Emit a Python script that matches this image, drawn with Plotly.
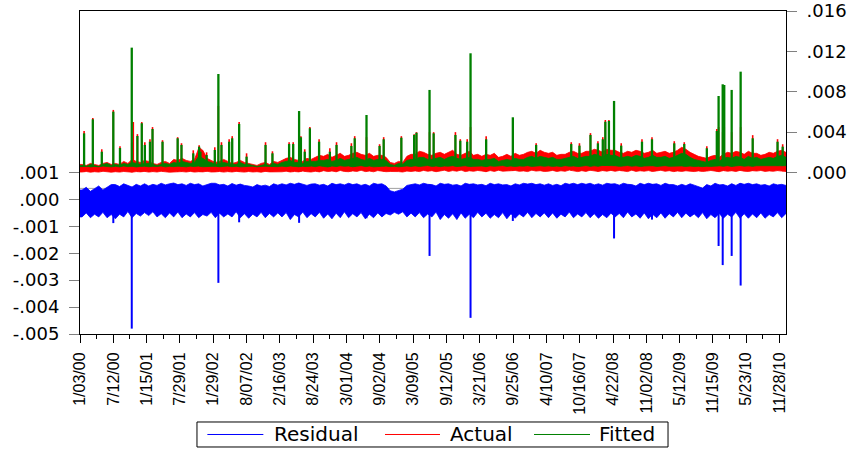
import numpy as np
import plotly.graph_objects as go

# ---------------------------------------------------------------------------
# Observation grid (irregular trading dates, labelled every 130 observations)
# ---------------------------------------------------------------------------
N_OBS = 2756
OBS_PER_LABEL = 130
OBS_PER_BIN = 16.25         # eight envelope bins between date labels
UNIT = 1e-4                 # series values below are in units of 1e-4

date_labels = ["1/03/00", "7/12/00", "1/15/01", "7/29/01", "1/29/02", "8/07/02",
               "2/16/03", "8/24/03", "3/01/04", "9/02/04", "3/09/05", "9/12/05",
               "3/21/06", "9/25/06", "4/10/07", "10/16/07", "4/22/08", "11/02/08",
               "5/12/09", "11/15/09", "5/23/10", "11/28/10"]
series_names = ["Residual", "Actual", "Fitted"]

# ---------------------------------------------------------------------------
# Per-bin max / min of each series (one row per date-label interval)
# ---------------------------------------------------------------------------
actual_hi = [
    8, 7, 9, 8, 7, 9, 10, 8,
    9, 8, 11, 9, 13, 11, 10, 12,
    11, 9, 8, 10, 11, 9, 13, 12,
    14, 12, 11, 13, 24, 22, 14, 12,
    10, 11, 13, 11, 9, 10, 12, 10,
    9, 8, 7, 9, 10, 8, 11, 10,
    12, 14, 15, 13, 12, 11, 14, 13,
    15, 17, 16, 18, 15, 17, 19, 16,
    17, 19, 20, 18, 17, 19, 16, 17,
    17, 15, 10, 9, 11, 10, 16, 18,
    18, 21, 20, 18, 17, 19, 20, 18,
    20, 22, 18, 17, 19, 21, 17, 18,
    16, 18, 17, 19, 15, 16, 18, 16,
    19, 17, 18, 20, 21, 19, 22, 20,
    19, 20, 17, 18, 18, 20, 21, 19,
    19, 21, 21, 23, 22, 20, 23, 22,
    22, 20, 19, 21, 20, 22, 21, 19,
    20, 22, 19, 20, 21, 19, 20, 22,
    25, 23, 20, 18, 16, 15, 14, 16,
    17, 15, 18, 20, 19, 21, 20, 18,
    21, 19, 19, 17, 18, 20, 19, 21,
    22, 20]
actual_lo = [
    0.5, 1.0, 0.3, 0.8, 0.4, 1.2, 0.6, 0.3,
    0.8, 0.4, 1.0, 0.5, 0.3, 0.9, 0.6, 1.1,
    0.4, 0.9, 0.5, 1.2, 0.7, 0.3, 1.0, 0.6,
    0.9, 0.5, 1.1, 0.4, 0.8, 0.6, 1.2, 0.5,
    0.6, 1.0, 0.4, 0.9, 0.5, 1.1, 0.7, 0.4,
    1.0, 0.5, 0.8, 0.3, 1.1, 0.6, 0.9, 0.5,
    0.7, 1.3, 0.5, 1.0, 0.6, 1.4, 0.8, 0.5,
    1.2, 0.6, 1.8, 0.9, 1.5, 0.7, 2.0, 1.0,
    0.8, 1.6, 1.1, 2.2, 0.9, 1.4, 0.7, 1.9,
    1.3, 0.8, 1.0, 0.6, 0.9, 0.5, 1.4, 1.0,
    1.6, 0.9, 2.1, 1.2, 1.8, 0.8, 1.5, 2.3,
    1.0, 1.9, 1.3, 2.4, 0.9, 1.7, 1.2, 2.0,
    1.5, 0.8, 1.9, 1.1, 2.2, 1.3, 0.9, 1.7,
    2.0, 1.2, 1.6, 0.9, 2.3, 1.4, 1.8, 1.0,
    1.3, 2.1, 1.0, 1.7, 1.2, 2.4, 1.5, 0.9,
    1.8, 1.1, 2.2, 1.4, 1.0, 1.9, 1.3, 2.1,
    1.2, 2.0, 1.5, 0.9, 2.3, 1.1, 1.7, 1.3,
    1.9, 1.0, 1.6, 2.2, 1.2, 1.8, 0.9, 1.5,
    1.1, 1.7, 1.3, 0.9, 1.6, 1.0, 1.4, 2.0,
    1.5, 0.8, 1.9, 1.2, 1.7, 1.0, 2.1, 1.3,
    1.0, 1.8, 1.4, 2.0, 1.1, 1.6, 1.2, 1.9,
    1.4, 1.0]
fitted_hi = [
    7, 6, 8, 7, 6, 8, 9, 7,
    8, 7, 9, 8, 10, 9, 8, 9,
    9, 8, 7, 8, 9, 8, 10, 9,
    11, 10, 9, 10, 16, 14, 11, 10,
    8, 9, 10, 9, 8, 8, 10, 8,
    8, 7, 6, 7, 8, 7, 9, 8,
    10, 11, 12, 10, 10, 9, 11, 11,
    11, 12, 12, 13, 11, 12, 14, 12,
    13, 14, 15, 13, 12, 14, 12, 13,
    13, 12, 8, 7, 9, 8, 12, 13,
    13, 15, 15, 13, 13, 14, 15, 13,
    15, 16, 14, 13, 14, 15, 13, 13,
    12, 13, 13, 14, 11, 12, 13, 12,
    14, 13, 13, 15, 16, 14, 16, 15,
    14, 15, 13, 13, 14, 15, 16, 14,
    15, 16, 16, 18, 17, 15, 18, 17,
    17, 15, 15, 16, 15, 17, 16, 14,
    15, 17, 15, 15, 16, 14, 15, 17,
    19, 18, 15, 13, 12, 11, 10, 12,
    13, 11, 14, 15, 14, 16, 15, 13,
    16, 14, 15, 13, 14, 15, 14, 16,
    17, 15]
fitted_lo = [
    5.8, 6.3, 5.5, 6.0, 5.7, 6.4, 5.9, 5.6,
    6.1, 5.6, 6.4, 5.8, 6.2, 5.5, 6.0, 6.3,
    5.7, 6.2, 5.9, 6.5, 5.6, 6.1, 5.8, 6.3,
    6.0, 5.6, 6.3, 5.9, 6.4, 5.7, 6.1, 5.8,
    6.2, 5.7, 6.0, 6.4, 5.8, 6.1, 5.6, 6.0,
    5.9, 6.3, 5.6, 6.0, 6.2, 5.7, 6.1, 5.8,
    6.3, 5.8, 6.5, 6.0, 5.7, 6.2, 5.9, 6.4,
    5.8, 6.6, 6.0, 5.5, 6.4, 5.9, 6.7, 6.1,
    6.5, 5.7, 6.2, 6.8, 5.9, 6.4, 5.6, 6.3,
    6.0, 6.4, 5.8, 6.2, 5.6, 6.0, 6.5, 5.9,
    6.6, 5.9, 6.3, 6.9, 6.0, 6.5, 5.8, 6.4,
    6.2, 6.8, 5.9, 6.4, 6.7, 6.0, 6.5, 6.1,
    6.4, 5.8, 6.6, 6.1, 6.3, 6.9, 6.0, 6.5,
    5.9, 6.5, 6.2, 6.8, 6.0, 6.4, 6.7, 6.1,
    6.6, 6.0, 6.4, 5.9, 6.8, 6.2, 6.5, 6.0,
    6.3, 6.9, 6.1, 6.6, 6.2, 7.0, 6.4, 6.8,
    6.7, 6.1, 6.5, 6.9, 6.2, 6.6, 6.0, 6.4,
    6.2, 6.7, 6.0, 6.5, 6.8, 6.1, 6.6, 6.3,
    6.5, 6.0, 6.4, 5.9, 6.2, 5.8, 6.3, 6.0,
    6.1, 6.6, 6.2, 6.8, 6.0, 6.5, 6.9, 6.2,
    6.6, 6.1, 6.7, 6.3, 6.9, 6.2, 6.5, 6.8,
    6.4, 6.7]
resid_hi = [
    3.5, 4.5, 3.0, 4.0, 5.0, 3.5, 4.5, 5.5,
    5.5, 4.8, 5.8, 5.2, 4.6, 5.6, 5.0, 5.8,
    5.0, 5.6, 5.2, 6.0, 5.4, 5.8, 6.1, 5.5,
    5.8, 5.2, 6.0, 5.5, 5.8, 5.0, 5.6, 6.0,
    6.0, 5.4, 5.6, 5.0, 5.9, 5.3, 5.7, 5.2,
    5.0, 4.6, 5.5, 5.0, 5.3, 4.8, 5.8, 5.3,
    5.8, 5.4, 6.0, 5.6, 6.1, 5.5, 5.2, 5.7,
    5.8, 5.3, 5.6, 5.0, 6.0, 5.5, 5.8, 5.4,
    6.0, 5.5, 5.8, 5.2, 5.6, 5.0, 6.0, 5.6,
    5.8, 5.0, 3.2, 2.8, 3.4, 3.8, 5.2, 5.6,
    5.8, 5.4, 6.0, 5.6, 5.5, 5.0, 6.0, 5.6,
    5.8, 5.3, 5.5, 5.0, 6.0, 5.6, 5.8, 5.4,
    5.6, 5.1, 6.0, 5.5, 5.8, 5.4, 5.5, 5.0,
    5.8, 5.4, 6.0, 5.7, 6.0, 5.5, 5.8, 5.3,
    5.8, 5.2, 5.6, 5.1, 6.0, 5.6, 6.0, 5.5,
    6.0, 5.6, 6.0, 5.4, 5.8, 5.3, 6.0, 5.7,
    5.8, 5.3, 6.0, 5.6, 5.5, 5.0, 6.0, 5.5,
    6.0, 5.6, 5.8, 5.2, 6.0, 5.5, 5.5, 5.0,
    5.6, 5.1, 5.8, 5.3, 4.8, 4.2, 5.5, 5.0,
    6.0, 5.4, 5.5, 5.0, 5.8, 5.2, 6.0, 5.6,
    6.0, 5.5, 5.8, 5.3, 5.5, 5.0, 5.8, 5.4,
    5.6, 5.2]
resid_lo = [
    -6.5, -5.0, -6.8, -5.5, -6.5, -4.8, -6.8, -5.6,
    -7.2, -5.5, -6.5, -4.5, -6.8, -5.2, -6.2, -4.9,
    -6.0, -4.6, -6.5, -5.3, -6.8, -5.0, -6.5, -4.7,
    -6.8, -5.4, -6.5, -4.9, -6.8, -5.6, -6.2, -4.8,
    -6.8, -5.1, -6.5, -5.4, -6.5, -4.6, -6.8, -5.3,
    -7.0, -5.5, -6.5, -4.8, -6.8, -5.2, -6.5, -5.0,
    -6.5, -4.9, -7.5, -5.6, -6.5, -4.7, -6.8, -5.3,
    -6.5, -4.8, -7.0, -5.4, -7.2, -5.1, -6.8, -4.6,
    -6.8, -5.3, -6.5, -4.9, -7.2, -5.5, -6.8, -5.0,
    -6.5, -5.2, -5.8, -4.8, -5.5, -4.6, -6.5, -5.1,
    -6.5, -4.9, -6.8, -5.4, -6.5, -4.7, -7.5, -5.6,
    -7.0, -5.3, -7.5, -5.0, -7.0, -5.5, -6.8, -4.8,
    -6.5, -5.1, -7.0, -5.6, -6.8, -4.9, -7.2, -5.3,
    -7.0, -5.4, -6.5, -4.8, -6.8, -5.2, -6.5, -5.0,
    -6.8, -5.0, -7.0, -5.5, -6.5, -4.7, -6.8, -5.4,
    -6.5, -4.9, -6.8, -5.3, -7.0, -5.6, -6.8, -5.1,
    -6.5, -5.2, -6.8, -4.7, -6.5, -5.4, -7.0, -5.0,
    -7.2, -5.5, -6.8, -5.0, -7.0, -5.3, -6.5, -4.8,
    -6.8, -5.1, -6.5, -5.4, -6.8, -4.9, -7.2, -5.6,
    -6.8, -5.2, -7.0, -5.5, -6.5, -4.8, -7.0, -5.3,
    -7.0, -5.4, -6.8, -5.0, -7.0, -5.6, -6.5, -4.9,
    -6.8, -5.3]

# ---------------------------------------------------------------------------
# Isolated spikes: observation number and value
# ---------------------------------------------------------------------------
fitted_spike_obs = [16, 50, 85, 130, 156, 202, 224, 241, 253, 273, 283, 322, 381, 396,
                    442, 465, 470, 494, 526, 540, 552, 582, 594, 621, 650, 724, 751, 816,
                    832, 855, 862, 877, 897, 933, 975, 1001, 1059, 1072, 1118, 1169, 1185,
                    1254, 1304, 1313, 1364, 1380, 1465, 1484, 1511, 1524, 1585, 1689, 1780,
                    1917, 1949, 1992, 2021, 2040, 2050, 2064, 2084, 2112, 2193, 2232, 2319,
                    2358, 2446, 2485, 2492, 2508, 2514, 2543, 2578, 2625, 2722, 2742]
fitted_spike_val = [38.8, 52.7, 20.6, 60.3, 24.3, 123.7, 36.2, 48.8, 27.3, 30.5, 43.1, 30.5,
                    33.9, 27.3, 19.0, 25.6, 20.6, 17.3, 22.3, 97.6, 27.3, 30.5, 33.9, 48.1,
                    15.7, 27.3, 19.0, 28.2, 28.2, 60.9, 34.9, 20.6, 43.8, 30.5, 20.6, 27.3,
                    26.3, 33.9, 57.0, 26.3, 32.9, 34.5, 37.2, 39.4, 81.8, 38.8, 37.2, 31.5,
                    30.5, 118.1, 32.9, 54.7, 27.3, 28.2, 26.6, 37.2, 28.9, 32.9, 50.3, 51.0,
                    70.9, 26.6, 30.5, 32.9, 28.9, 28.2, 24.0, 41.1, 75.8, 87.4, 86.7, 81.8,
                    99.9, 33.9, 30.5, 25.6]
actual_spike_obs = [16, 50, 85, 130, 156, 202, 208, 224, 241, 253, 273, 283, 322, 381, 396,
                    442, 465, 470, 494, 526, 540, 552, 582, 594, 621, 650, 724, 751, 816,
                    832, 855, 862, 877, 897, 933, 975, 1001, 1059, 1072, 1118, 1169, 1185,
                    1254, 1304, 1313, 1364, 1380, 1465, 1484, 1511, 1524, 1585, 1689, 1780,
                    1917, 1949, 1992, 2021, 2040, 2050, 2064, 2084, 2112, 2193, 2232, 2319,
                    2358, 2446, 2485, 2492, 2508, 2514, 2543, 2578, 2625, 2722, 2742]
actual_spike_val = [41, 54, 23, 62, 26, 30, 50, 38, 50, 30, 33, 45, 32, 35, 29,
                    22, 27, 24, 20, 25, 66, 30, 33, 36, 50, 19, 30, 21, 30,
                    30, 40, 36, 23, 45, 33, 24, 30, 29, 36, 35, 28, 35,
                    36, 38, 40, 40, 40, 40, 33, 33, 45, 36, 35, 29,
                    30, 29, 39, 31, 35, 52, 52, 40, 29, 33, 35, 31,
                    30, 26, 43, 45, 40, 45, 40, 45, 37, 33, 28]
resid_spike_obs = [130, 202, 540, 621, 855, 1118, 1364, 1524, 1689, 2084, 2232,
                   2492, 2508, 2543, 2578]
resid_spike_val = [-8.8, -48.0, -31.0, -8.5, -8.7, -7.0, -21.0, -44.0, -8.0, -14.5, -7.5,
                   -17.3, -24.4, -21.0, -32.0]

# residual +/- one standard error reference lines
resid_se_lines = [4.1, -3.6]

BLUE, RED, GREEN = "#0000FF", "#FF0000", "#008000"
colors = [BLUE, RED, GREEN]

n_bins = len(actual_hi)
centers = (np.arange(n_bins) + 0.5) * OBS_PER_BIN
edge_x = np.concatenate([[0], centers, [N_OBS - 1]])


def padded(v):
    v = np.asarray(v, dtype=float) * UNIT
    return np.concatenate([[v[0]], v, [v[-1]]])


def band(hi, lo, color, yaxis, name):
    """Filled range between the per-bin max and min of a densely packed daily series."""
    xs = np.concatenate([edge_x, edge_x[::-1]])
    ys = np.concatenate([padded(hi), padded(lo)[::-1]])
    return go.Scatter(x=xs, y=ys, mode="lines", fill="toself", fillcolor=color,
                      line=dict(color=color, width=0.8), yaxis=yaxis, name=name,
                      legendgroup=name, showlegend=False, hoverinfo="skip")


def spikes(obs, val, base_env, color, yaxis, name, width):
    base = np.interp(obs, edge_x, padded(base_env))
    xs, ys = [], []
    for o, b, v in zip(obs, base, val):
        xs += [o, o, None]
        ys += [b, v * UNIT, None]
    return go.Scatter(x=xs, y=ys, mode="lines", line=dict(color=color, width=width),
                      yaxis=yaxis, name=name, legendgroup=name, showlegend=False,
                      hoverinfo="skip")


fig = go.Figure()

for v in resid_se_lines:
    fig.add_hline(y=v * UNIT, line=dict(color="#A0A0A0", width=1), layer="below")

fig.add_trace(band(resid_hi, resid_lo, BLUE, "y", series_names[0]))
fig.add_trace(spikes(resid_spike_obs, resid_spike_val, resid_hi, BLUE, "y",
                     series_names[0], 2))
fig.add_trace(band(actual_hi, actual_lo, RED, "y2", series_names[1]))
fig.add_trace(spikes(actual_spike_obs, actual_spike_val, actual_lo, RED, "y2",
                     series_names[1], 1.6))
fig.add_trace(band(fitted_hi, fitted_lo, GREEN, "y2", series_names[2]))
fig.add_trace(spikes(fitted_spike_obs, fitted_spike_val, fitted_lo, GREEN, "y2",
                     series_names[2], 2.3))

# Boxed legend below the plot: sample line + series name for each series
legend_box = dict(x0=0.1657, x1=0.8329, y0=-0.3498, y1=-0.2724)
legend_line_x = [(0.1804, 0.2597), (0.4320, 0.5099), (0.6431, 0.7224)]
legend_text_x = [0.2720, 0.5210, 0.7320]
legend_y = -0.3111
fig.add_shape(type="rect", xref="paper", yref="paper", line=dict(color="black", width=1),
              fillcolor="white", **legend_box)
for (lx0, lx1), tx, name, col in zip(legend_line_x, legend_text_x, series_names, colors):
    fig.add_shape(type="line", xref="paper", yref="paper", x0=lx0, x1=lx1,
                  y0=legend_y, y1=legend_y, line=dict(color=col, width=1))
    fig.add_annotation(x=tx, y=legend_y, xref="paper", yref="paper", text=name,
                       showarrow=False, xanchor="left", yanchor="middle",
                       font=dict(family="DejaVu Sans", size=20, color="black"))

label_font = dict(family="Liberation Sans, Arial", size=16, color="black")
num_font = dict(family="DejaVu Sans", size=18, color="black")

left_vals = [-0.005, -0.004, -0.003, -0.002, -0.001, 0.0, 0.001]
right_vals = [0.0, 0.004, 0.008, 0.012, 0.016]


def fmt(v):
    return f"{v:.3f}".replace("0.", ".")


fig.update_layout(
    width=853, height=449,
    margin=dict(l=80, r=67, t=11, b=115),
    paper_bgcolor="white", plot_bgcolor="white",
    showlegend=False,
    xaxis=dict(range=[0, N_OBS - 1], automargin=False,
               tickvals=[i * OBS_PER_LABEL for i in range(len(date_labels))],
               ticktext=date_labels, tickangle=-90, tickfont=label_font,
               ticklabelstandoff=3,
               ticks="outside", ticklen=8, tickcolor="black", tickwidth=1,
               minor=dict(tickvals=[i * OBS_PER_LABEL + OBS_PER_LABEL / 2
                                    for i in range(len(date_labels))],
                          ticks="outside", ticklen=4, tickcolor="black"),
               showline=True, linecolor="black", linewidth=1, mirror=True,
               showgrid=False, zeroline=False),
    yaxis=dict(range=[-0.005, 0.007], automargin=False, tickvals=left_vals,
               ticktext=[fmt(v) for v in left_vals],
               tickfont=num_font, ticks="outside", ticklen=10, tickcolor="#808080",
               ticklabelstandoff=6,
               showline=True, linecolor="black", linewidth=1,
               showgrid=False, zeroline=False),
    yaxis2=dict(range=[-0.016, 0.016], automargin=False, overlaying="y", side="right",
                tickvals=right_vals, ticktext=[fmt(v) for v in right_vals],
                tickfont=num_font, ticks="outside", ticklen=10, tickcolor="#808080",
                ticklabelstandoff=6,
                showline=True, linecolor="black", linewidth=1,
                showgrid=False, zeroline=False),
)

fig.write_html("out.html")
